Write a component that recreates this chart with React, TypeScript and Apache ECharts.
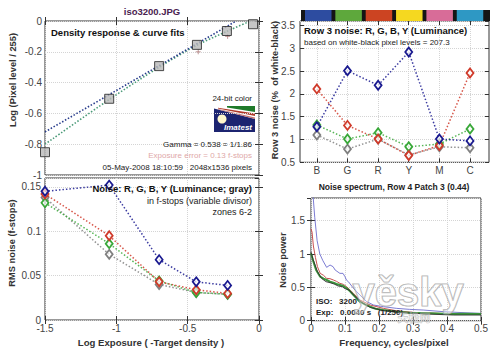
import React, { useEffect, useRef } from 'react';
import * as echarts from 'echarts';

// ---------- Density response (top-left) ----------
const densityX = [-1.5, -1.05, -0.7, -0.435, -0.225, -0.042];
const densityY = [-0.852, -0.505, -0.293, -0.155, -0.065, -0.021];
const linearFitX = [-1.5, -0.16];
const linearFitY = [-0.72, 0];
const curveFitX = [-1.5, -1.05, -0.7, -0.44, -0.22, -0.06];
const curveFitY = [-0.8, -0.51, -0.3, -0.16, -0.065, 0];
const plusX = [-0.426, -0.22];
const plusY = [-0.2, -0.1];

// ---------- Noise vs exposure (bottom-left) ----------
const exposureX = [-1.5, -1.05, -0.7, -0.44, -0.22];
const noiseR = [0.142, 0.095, 0.043, 0.034, 0.03];
const noiseG = [0.132, 0.086, 0.044, 0.031, 0.029];
const noiseB = [0.145, 0.152, 0.068, 0.043, 0.039];
const noiseY = [0.138, 0.074, 0.04, 0.031, 0.029];

// ---------- Row 3 noise (top-right) ----------
const patchNames = ['B', 'G', 'R', 'Y', 'M', 'C'];
const patchColors = ['#2d4ca0', '#5ea83c', '#cc4422', '#f5d820', '#d86c98', '#2e98c4'];
const rowR = [2.11, 1.31, 1.01, 0.65, 0.87, 2.46];
const rowG = [1.32, 1.01, 1.15, 0.84, 0.9, 1.23];
const rowB = [1.28, 2.51, 2.19, 2.92, 1.01, 0.97];
const rowY = [1.1, 0.79, 1.01, 0.66, 0.84, 0.82];

// ---------- Noise spectrum (bottom-right) ----------
const specBlueF = [0, 0.006, 0.011, 0.018, 0.026, 0.035, 0.046, 0.056, 0.065, 0.071, 0.085, 0.094, 0.1, 0.104, 0.11, 0.125, 0.144, 0.164, 0.184, 0.213, 0.252, 0.29, 0.33, 0.39, 0.45, 0.5];
const specBlueP = [2.2, 1.88, 1.55, 1.2, 1.0, 0.9, 0.8, 0.835, 0.81, 0.76, 0.71, 0.71, 0.66, 0.61, 0.585, 0.485, 0.385, 0.285, 0.235, 0.21, 0.185, 0.17, 0.16, 0.135, 0.12, 0.11];
const specRedF = [0, 0.003, 0.007, 0.013, 0.019, 0.027, 0.037, 0.046, 0.056, 0.066, 0.075, 0.085, 0.095, 0.105, 0.115, 0.125, 0.144, 0.174, 0.213, 0.25, 0.3, 0.4, 0.5];
const specRedP = [1.38, 1.33, 1.12, 0.95, 0.81, 0.71, 0.68, 0.635, 0.63, 0.61, 0.59, 0.56, 0.545, 0.51, 0.46, 0.41, 0.31, 0.235, 0.185, 0.15, 0.125, 0.105, 0.1];
const specGreenF = [0, 0.007, 0.015, 0.027, 0.037, 0.046, 0.056, 0.066, 0.075, 0.085, 0.095, 0.105, 0.115, 0.125, 0.135, 0.144, 0.16, 0.174, 0.19, 0.213, 0.252, 0.29, 0.35, 0.41, 0.45, 0.5];
const specGreenP = [1.01, 0.885, 0.76, 0.66, 0.63, 0.61, 0.585, 0.57, 0.55, 0.535, 0.52, 0.485, 0.44, 0.385, 0.33, 0.285, 0.24, 0.21, 0.18, 0.16, 0.135, 0.12, 0.11, 0.1, 0.105, 0.1];
const specBlackF = [0, 0.006, 0.012, 0.019, 0.031, 0.044, 0.056, 0.068, 0.08, 0.092, 0.1, 0.112, 0.13, 0.15, 0.174, 0.213, 0.272, 0.341, 0.42, 0.5];
const specBlackP = [1.03, 0.92, 0.835, 0.735, 0.635, 0.585, 0.57, 0.55, 0.52, 0.51, 0.48, 0.46, 0.36, 0.27, 0.2, 0.15, 0.12, 0.1, 0.085, 0.085];

const FONT = '"Liberation Sans", Arial, sans-serif';
const C_RED = '#d03a2a';
const C_GREEN = '#38a838';
const C_BLUE = '#1a1a90';
const C_GRAY = '#808080';

const zip = (xs: number[], ys: number[]) => xs.map((x, i) => [x, ys[i]]);

const splitLine = { show: true, lineStyle: { color: '#d4d4d4', type: 'dotted', width: 1 } };
const labelStyle = { color: '#444', fontSize: 10, fontFamily: FONT };
const tick = { inside: true, length: 4, lineStyle: { color: '#333' } };

function xPair(gridIndex: number, min: number, max: number, interval: number, labelMargin: number | null, extra: any = {}) {
  const base: any = { type: 'value', gridIndex, min, max, interval, axisLine: { show: false }, axisTick: { ...tick }, splitLine };
  const bottom: any = {
    ...base,
    position: 'bottom',
    axisLabel: labelMargin === null ? { show: false } : { ...labelStyle, margin: labelMargin, showMaxLabel: true },
  };
  const top: any = { ...base, position: 'top', axisLabel: { show: false }, splitLine: { show: false } };
  if (extra.customValues) {
    bottom.axisTick = { ...tick, customValues: extra.customValues };
    bottom.axisLabel = { ...bottom.axisLabel, customValues: extra.customValues, formatter: extra.formatter };
    top.axisTick = { ...tick, customValues: extra.customValues };
  }
  return [bottom, top];
}

function yPair(gridIndex: number, min: number, max: number, interval: number, labelMargin: number, hideMax: boolean) {
  const base: any = { type: 'value', gridIndex, min, max, interval, axisLine: { show: false }, axisTick: { ...tick }, splitLine };
  return [
    { ...base, position: 'left', axisLabel: { ...labelStyle, margin: labelMargin, showMaxLabel: !hideMax } },
    { ...base, position: 'right', axisLabel: { show: false }, splitLine: { show: false } },
  ];
}

function diamondSeries(name: string, color: string, data: number[][], axisIdx: number, z: number) {
  return {
    name,
    type: 'line',
    xAxisIndex: axisIdx,
    yAxisIndex: axisIdx,
    data,
    symbol: 'diamond',
    symbolSize: [7, 9],
    showAllSymbol: true,
    itemStyle: { color: 'rgba(255,255,255,0.7)', borderColor: color, borderWidth: 1.8 },
    lineStyle: { color, width: 1.5, type: [1.5, 2], opacity: 0.85 },
    z,
  };
}

function txt(x: number, y: number, text: string, font: string, fill: string, align: string, extra: any = {}) {
  return {
    type: 'text',
    x,
    y,
    z: 100,
    ...extra,
    style: { text, font, fill, textAlign: align, align, textVerticalAlign: 'middle', verticalAlign: 'middle' },
  };
}

function buildOption() {
  const gridBase = { show: true, borderColor: '#333', borderWidth: 1, backgroundColor: '#fff' };
  const grids = [
    { ...gridBase, left: 45, top: 21, width: 214, height: 154 },
    { ...gridBase, left: 45, top: 178, width: 214, height: 142 },
    { ...gridBase, left: 300, top: 21, width: 189, height: 141.3 },
    { ...gridBase, left: 311, top: 198, width: 170, height: 122.7 },
  ];

  const xAxis = [
    ...xPair(0, -1.5, 0, 0.5, null),
    ...xPair(1, -1.5, 0, 0.5, 3),
    ...xPair(2, 0.45, 6.62, 1, 3, {
      customValues: [1, 2, 3, 4, 5, 6],
      formatter: (v: number) => patchNames[Math.round(v) - 1] ?? '',
    }),
    ...xPair(3, 0, 0.5, 0.1, 3),
  ];
  const yAxis = [
    ...yPair(0, -1, 0, 0.2, 3, false),
    ...yPair(1, 0, 0.16, 0.05, 4, true),
    ...yPair(2, 0.5, 3.6, 0.5, 5, true),
    ...yPair(3, 0, 1.84, 0.5, 6, true),
  ];

  const series: any[] = [
    // top-left
    {
      type: 'line', xAxisIndex: 0, yAxisIndex: 0, data: zip(curveFitX, curveFitY), showSymbol: false, smooth: 0.3,
      lineStyle: { color: '#4a9a78', width: 1.6, type: [1.5, 1.8] }, z: 3,
    },
    {
      type: 'line', xAxisIndex: 0, yAxisIndex: 0, data: zip(linearFitX, linearFitY), showSymbol: false,
      lineStyle: { color: '#283c8c', width: 1.6, type: [1.5, 1.8] }, z: 4,
    },
    {
      type: 'scatter', xAxisIndex: 0, yAxisIndex: 0, data: zip(plusX, plusY),
      symbol: 'path://M0,5L10,5M5,0L5,10', symbolSize: 5,
      itemStyle: { color: 'none', borderColor: '#b08080', borderWidth: 1 }, z: 5,
    },
    {
      type: 'scatter', xAxisIndex: 0, yAxisIndex: 0, data: zip(densityX, densityY),
      symbol: 'rect', symbolSize: 9,
      itemStyle: { color: '#b8b8b8', borderColor: '#222', borderWidth: 1 }, z: 6,
    },
    // bottom-left
    diamondSeries('Y', C_GRAY, zip(exposureX, noiseY), 2, 3),
    diamondSeries('G', C_GREEN, zip(exposureX, noiseG), 2, 4),
    diamondSeries('R', C_RED, zip(exposureX, noiseR), 2, 5),
    diamondSeries('B', C_BLUE, zip(exposureX, noiseB), 2, 6),
    // top-right
    diamondSeries('Y', C_GRAY, rowY.map((v, i) => [i + 1, v]), 4, 3),
    diamondSeries('G', C_GREEN, rowG.map((v, i) => [i + 1, v]), 4, 4),
    diamondSeries('R', C_RED, rowR.map((v, i) => [i + 1, v]), 4, 5),
    diamondSeries('B', C_BLUE, rowB.map((v, i) => [i + 1, v]), 4, 6),
    // bottom-right
    {
      type: 'line', xAxisIndex: 6, yAxisIndex: 6, data: zip(specBlueF, specBlueP), showSymbol: false,
      lineStyle: { color: '#5a5ac8', width: 0.8 }, z: 3,
    },
    {
      type: 'line', xAxisIndex: 6, yAxisIndex: 6, data: zip(specRedF, specRedP), showSymbol: false,
      lineStyle: { color: '#c85050', width: 1 }, z: 4,
    },
    {
      type: 'line', xAxisIndex: 6, yAxisIndex: 6, data: zip(specGreenF, specGreenP), showSymbol: false,
      lineStyle: { color: '#3c963c', width: 2 }, z: 5,
    },
    {
      type: 'line', xAxisIndex: 6, yAxisIndex: 6, data: zip(specBlackF, specBlackP), showSymbol: false,
      lineStyle: { color: '#303030', width: 0.9 }, z: 6,
    },
  ];

  // colour bar above row-3 plot
  const barChildren: any[] = [
    { type: 'rect', shape: { x: 301, y: 10, width: 189, height: 11 }, style: { fill: '#151515' } },
  ];
  patchColors.forEach((c, i) => {
    barChildren.push({
      type: 'rect',
      shape: { x: 305 + i * 30.35, y: 10, width: 26.5, height: 11 },
      style: { fill: c },
    });
  });

  const HEAD = `bold 9.5px ${FONT}`;
  const AXN = `bold 9.3px ${FONT}`;
  const SMALL = `8px ${FONT}`;
  const MID = `9px ${FONT}`;

  const logo = {
    type: 'group',
    x: 214,
    y: 106,
    z: 100,
    children: [
      { type: 'rect', shape: { x: 0, y: 0, width: 41, height: 26 }, style: { fill: '#1c2470' } },
      { type: 'polygon', shape: { points: [[0, 0], [41, 0], [41, 13], [0, 2.5]] }, style: { fill: '#ffffff' } },
      { type: 'polygon', shape: { points: [[13, 0], [41, 0], [41, 6], [13, 1.5]] }, style: { fill: '#1f7a2a' } },
      { type: 'polygon', shape: { points: [[4, 1.8], [41, 7.5], [41, 10], [4, 2.6]] }, style: { fill: '#b03a2a' } },
      { type: 'polygon', shape: { points: [[4, 3], [41, 11.5], [41, 13], [4, 3.6]] }, style: { fill: '#c07070' } },
      { type: 'circle', shape: { cx: 8, cy: 13, r: 4.5 }, style: { fill: '#fff8cc' } },
      {
        type: 'text', x: 24, y: 21,
        style: { text: 'Imatest', font: `italic bold 8px ${FONT}`, fill: '#ffffff', textAlign: 'center', align: 'center', textVerticalAlign: 'middle', verticalAlign: 'middle' },
      },
    ],
  };

  const graphic: any[] = [
    { type: 'group', z: 50, children: barChildren },
    txt(152, 11, 'iso3200.JPG', HEAD, '#4a2250', 'center'),
    // top-left
    txt(13, 80, 'Log (Pixel level / 255)', AXN, '#333', 'center', { rotation: Math.PI / 2 }),
    txt(51, 32, 'Density response & curve fits', HEAD, '#111', 'left'),
    txt(252, 98, '24-bit color', SMALL, '#222', 'right'),
    logo,
    txt(252, 144, 'Gamma = 0.538 = 1/1.86', SMALL, '#222', 'right'),
    txt(252, 155.5, 'Exposure error = 0.13 f-stops', SMALL, '#e0a8a8', 'right'),
    txt(252, 167, '05-May-2008 18:10:59   2048x1536 pixels', SMALL, '#222', 'right'),
    // bottom-left
    txt(12, 243, 'RMS noise (f-stops)', AXN, '#333', 'center', { rotation: Math.PI / 2 }),
    txt(252, 188.5, 'Noise: R, G, B, Y (Luminance; gray)', HEAD, '#111', 'right'),
    txt(252, 201, 'in f-stops (variable divisor)', MID, '#222', 'right'),
    txt(252, 212, 'zones 6-2', MID, '#222', 'right'),
    txt(151, 342, 'Log Exposure ( -Target density )', `bold 9.6px ${FONT}`, '#333', 'center'),
    // top-right
    txt(274.5, 90, 'Row 3 noise (%  of white-black)', AXN, '#333', 'center', { rotation: Math.PI / 2 }),
    txt(304, 30, 'Row 3 noise: R, G, B, Y (Luminance)', HEAD, '#111', 'left'),
    txt(304, 42, 'based on white-black pixel levels = 207.3', SMALL, '#222', 'left'),
    // bottom-right
    txt(394, 187, 'Noise spectrum, Row 4 Patch 3 (0.44)', `bold 8.5px ${FONT}`, '#222', 'center'),
    txt(283, 260, 'Noise power', AXN, '#333', 'center'),
    txt(394, 342, 'Frequency, cycles/pixel', `bold 9.8px ${FONT}`, '#333', 'center'),
    txt(316, 301, 'ISO:   3200', `bold 8px ${FONT}`, '#222', 'left'),
    txt(316, 312, 'Exp:   0.0040 s   (1/250)', `bold 8px ${FONT}`, '#222', 'left'),
    // watermark
    {
      type: 'text', x: 408, y: 292, z: 120,
      style: {
        text: 'yěsky', font: `bold 40px ${FONT}`, fill: 'rgba(255,255,255,0.35)', stroke: 'rgba(150,150,150,0.75)', lineWidth: 1.2,
        textAlign: 'center', align: 'center', textVerticalAlign: 'middle', verticalAlign: 'middle',
      },
    },
    {
      type: 'text', x: 414, y: 317, z: 120,
      style: {
        text: '天极网', font: `bold 11px "Noto Sans CJK SC", sans-serif`, fill: 'rgba(255,255,255,0.3)', stroke: 'rgba(150,150,150,0.6)', lineWidth: 0.7,
        textAlign: 'center', align: 'center', textVerticalAlign: 'middle', verticalAlign: 'middle',
      },
    },
  ];
  // rotate "Noise power"
  (graphic[graphic.length - 6] as any).rotation = Math.PI / 2;

  return {
    animation: false,
    backgroundColor: '#fff',
    textStyle: { fontFamily: FONT },
    grid: grids,
    xAxis,
    yAxis,
    series,
    graphic,
  };
}

export default function App() {
  const ref = useRef<HTMLDivElement>(null);
  useEffect(() => {
    if (!ref.current) return;
    const chart = echarts.init(ref.current, null, { renderer: 'svg' });
    chart.setOption(buildOption() as any);
    return () => chart.dispose();
  }, []);
  return (
    <div
      ref={ref}
      style={{ position: 'absolute', left: 0, top: 0, width: 500, height: 352, background: '#fff' }}
    />
  );
}
